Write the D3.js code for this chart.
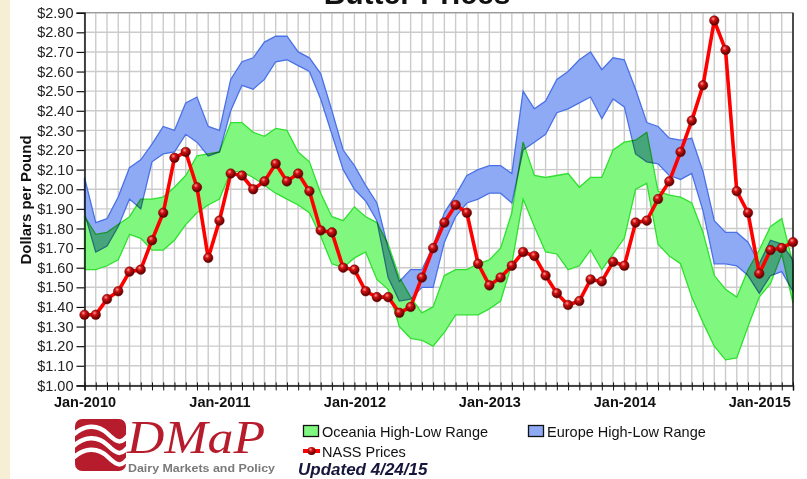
<!DOCTYPE html>
<html><head><meta charset="utf-8">
<script src="https://cdn.jsdelivr.net/npm/d3@7"></script>
<style>
body{margin:0;background:#fff;}
svg{display:block;}
text{font-family:"Liberation Sans",Arial,sans-serif;}
</style>
</head><body>
<svg id="chart" width="807" height="479"></svg>
<script>
// ---------------- DATA ----------------
const months = [
 "2010-01","2010-02","2010-03","2010-04","2010-05","2010-06","2010-07","2010-08","2010-09","2010-10","2010-11","2010-12",
 "2011-01","2011-02","2011-03","2011-04","2011-05","2011-06","2011-07","2011-08","2011-09","2011-10","2011-11","2011-12",
 "2012-01","2012-02","2012-03","2012-04","2012-05","2012-06","2012-07","2012-08","2012-09","2012-10","2012-11","2012-12",
 "2013-01","2013-02","2013-03","2013-04","2013-05","2013-06","2013-07","2013-08","2013-09","2013-10","2013-11","2013-12",
 "2014-01","2014-02","2014-03","2014-04","2014-05","2014-06","2014-07","2014-08","2014-09","2014-10","2014-11","2014-12",
 "2015-01","2015-02","2015-03","2015-04"];

const nassPrices = [
 1.36,1.36,1.44,1.48,1.58,1.59,1.74,1.88,2.16,2.19,2.01,1.65,
 1.84,2.08,2.07,2.00,2.04,2.13,2.04,2.08,1.99,1.79,1.78,1.60,
 1.59,1.48,1.45,1.45,1.37,1.40,1.55,1.70,1.83,1.92,1.88,1.62,
 1.51,1.55,1.61,1.68,1.66,1.56,1.47,1.41,1.43,1.54,1.53,1.63,
 1.61,1.83,1.84,1.95,2.04,2.19,2.35,2.53,2.86,2.71,1.99,1.88,
 1.57,1.69,1.70,1.73];

const oceaniaHigh = [
 1.86,1.77,1.78,1.82,1.86,1.95,1.95,1.96,2.01,2.07,2.17,2.18,
 2.19,2.34,2.34,2.29,2.27,2.31,2.30,2.19,2.14,1.98,1.86,1.84,
 1.91,1.86,1.83,1.72,1.55,1.45,1.37,1.40,1.56,1.59,1.59,1.62,
 1.64,1.70,1.88,2.24,2.07,2.06,2.07,2.08,2.01,2.06,2.06,2.20,
 2.24,2.25,2.29,1.99,1.97,1.96,1.93,1.78,1.56,1.49,1.45,1.59,
 1.69,1.81,1.85,1.62];
const oceaniaLow = [
 1.59,1.59,1.61,1.64,1.77,1.75,1.69,1.69,1.74,1.82,1.88,1.92,
 1.95,2.09,2.09,2.06,2.02,1.98,1.95,1.92,1.88,1.76,1.62,1.60,
 1.65,1.68,1.54,1.49,1.30,1.24,1.23,1.20,1.27,1.36,1.36,1.36,
 1.39,1.43,1.62,1.95,1.81,1.68,1.67,1.59,1.61,1.69,1.59,1.67,
 1.75,2.00,2.03,1.72,1.66,1.62,1.45,1.32,1.20,1.13,1.14,1.30,
 1.45,1.52,1.67,1.42];

const europeHigh = [
 2.06,1.83,1.85,1.96,2.11,2.15,2.23,2.32,2.30,2.44,2.47,2.32,
 2.30,2.56,2.65,2.67,2.75,2.78,2.78,2.70,2.67,2.59,2.40,2.20,
 2.12,2.02,1.93,1.70,1.53,1.59,1.59,1.71,1.88,1.97,2.07,2.10,
 2.12,2.12,2.08,2.50,2.41,2.45,2.56,2.60,2.66,2.70,2.61,2.67,
 2.66,2.51,2.34,2.32,2.26,2.25,2.26,2.09,1.84,1.78,1.78,1.73,
 1.62,1.74,1.72,1.64];
const europeLow = [
 1.88,1.68,1.71,1.81,1.95,1.90,2.14,2.18,2.19,2.28,2.24,2.17,
 2.19,2.40,2.53,2.51,2.56,2.65,2.66,2.63,2.60,2.46,2.28,2.10,
 2.00,1.94,1.84,1.55,1.43,1.44,1.50,1.50,1.73,1.86,1.93,1.95,
 1.98,1.98,1.93,2.20,2.24,2.28,2.39,2.41,2.44,2.47,2.36,2.46,
 2.42,2.18,2.14,2.13,2.07,2.05,2.08,1.89,1.62,1.62,1.61,1.56,
 1.47,1.56,1.58,1.48];

const yTickValues = [1.00,1.10,1.20,1.30,1.40,1.50,1.60,1.70,1.80,1.90,2.00,2.10,2.20,2.30,2.40,2.50,2.60,2.70,2.80,2.90];
const xLabelMonths = ["2010-01","2011-01","2012-01","2013-01","2014-01","2015-01"];
const xLabelTexts  = ["Jan-2010","Jan-2011","Jan-2012","Jan-2013","Jan-2014","Jan-2015"];

const legendItems = ["Oceania High-Low Range","Europe High-Low Range","NASS Prices"];

// ---------------- LAYOUT ----------------
const svg = d3.select("#chart");
const L = 84.5, R = 793, T = 12.7, B = 385.4;

svg.append("rect").attr("x",0).attr("y",0).attr("width",807).attr("height",479).attr("fill","#fff");
svg.append("rect").attr("x",0).attr("y",0).attr("width",10).attr("height",479).attr("fill","#f6eed5");

const x = d3.scalePoint().domain(months).range([L, R]);
const y = d3.scaleLinear().domain([1.0, 2.9]).range([B, T]);

const defs = svg.append("defs");
const grad = defs.append("radialGradient").attr("id","ball").attr("cx","38%").attr("cy","32%").attr("r","65%");
grad.append("stop").attr("offset","0%").attr("stop-color","#ff9a9a");
grad.append("stop").attr("offset","35%").attr("stop-color","#d41010");
grad.append("stop").attr("offset","100%").attr("stop-color","#5a0000");

// grid
const grid = svg.append("g");
grid.selectAll("line.h").data(yTickValues).join("line")
  .attr("x1",L).attr("x2",R).attr("y1",d=>y(d)).attr("y2",d=>y(d))
  .attr("stroke","#cbcbcb").attr("stroke-width",1.4);
grid.selectAll("line.v").data(months).join("line")
  .attr("x1",d=>x(d)).attr("x2",d=>x(d)).attr("y1",T).attr("y2",B)
  .attr("stroke","#cbcbcb").attr("stroke-width",1.4);

// bands
const bands = svg.append("g").style("isolation","isolate");
function band(high, low, fill, stroke){
  const area = d3.area().x((d,i)=>x(months[i])).y0((d,i)=>y(low[i])).y1((d,i)=>y(high[i]));
  bands.append("path").datum(high).attr("d",area)
    .attr("fill",fill).attr("stroke",stroke).attr("stroke-width",1.3)
    .style("mix-blend-mode","multiply");
}
band(europeHigh, europeLow, "#8eaaf5", "#4a72e6");
band(oceaniaHigh, oceaniaLow, "#80f880", "#2fe02f");

// frame
svg.append("line").attr("x1",L).attr("x2",R).attr("y1",T).attr("y2",T).attr("stroke","#9a9a9a").attr("stroke-width",1.2);
svg.append("line").attr("x1",R).attr("x2",R).attr("y1",T).attr("y2",B).attr("stroke","#111").attr("stroke-width",1.4);

// y axis
const yAxis = svg.append("g").attr("transform",`translate(${L},0)`)
  .call(d3.axisLeft(y).tickValues(yTickValues).tickFormat(d=>"$"+d.toFixed(2)).tickSize(8).tickPadding(3));
yAxis.select(".domain").attr("stroke","#111").attr("stroke-width",1.5);
yAxis.selectAll(".tick line").attr("stroke","#111").attr("stroke-width",1.2);
yAxis.selectAll("text").attr("font-size","14.5px").attr("fill","#222")
  .style("font-family","'Liberation Sans',Arial,sans-serif");

// x axis
const xAxis = svg.append("g").attr("transform",`translate(0,${B})`)
  .call(d3.axisBottom(x).tickValues(months).tickSize(5).tickPadding(6)
    .tickFormat(d=>{const k=xLabelMonths.indexOf(d); return k>=0?xLabelTexts[k]:"";}));
xAxis.select(".domain").attr("stroke","#111").attr("stroke-width",1.5);
xAxis.selectAll(".tick line").attr("y1",-3).attr("stroke","#111").attr("stroke-width",1);
xAxis.selectAll("text").attr("font-size","14.5px").attr("font-weight","bold").attr("fill","#111")
  .style("font-family","'Liberation Sans',Arial,sans-serif");

// NASS line
const line = d3.line().x((d,i)=>x(months[i])).y(d=>y(d));
svg.append("path").datum(nassPrices).attr("d",line).attr("fill","none")
  .attr("stroke","#ff0000").attr("stroke-width",3.6).attr("stroke-linejoin","round");
svg.append("g").selectAll("circle").data(nassPrices).join("circle")
  .attr("cx",(d,i)=>x(months[i])).attr("cy",d=>y(d)).attr("r",4.8)
  .attr("fill","url(#ball)").attr("stroke","#6a0000").attr("stroke-width",0.5);

// title (cut off at top, as in the reference)
svg.append("text").attr("x",417).attr("y",4).attr("text-anchor","middle")
  .attr("font-size","30px").attr("font-weight","bold").attr("fill","#111").text("Butter Prices");

// y axis title
svg.append("text").attr("transform","translate(31,200) rotate(-90)").attr("text-anchor","middle")
  .attr("font-size","15px").attr("font-weight","bold").attr("fill","#111").text("Dollars per Pound");

// legend
const lg = svg.append("g");
lg.append("rect").attr("x",303.5).attr("y",425.5).attr("width",15).attr("height",11)
  .attr("fill","#80f880").attr("stroke","#111").attr("stroke-width",1.3);
lg.append("text").attr("x",322).attr("y",436.5).attr("font-size","14.5px").attr("fill","#111").text(legendItems[0]);
lg.append("rect").attr("x",528.5).attr("y",425.5).attr("width",15).attr("height",11)
  .attr("fill","#8eaaf5").attr("stroke","#111").attr("stroke-width",1.3);
lg.append("text").attr("x",547).attr("y",436.5).attr("font-size","14.5px").attr("fill","#111").text(legendItems[1]);
lg.append("line").attr("x1",303).attr("x2",320).attr("y1",451).attr("y2",451).attr("stroke","#ff0000").attr("stroke-width",4);
lg.append("circle").attr("cx",311.5).attr("cy",451).attr("r",4).attr("fill","url(#ball)");
lg.append("text").attr("x",322).attr("y",456.5).attr("font-size","14.5px").attr("fill","#111").text(legendItems[2]);
lg.append("text").attr("x",298).attr("y",474.5).attr("font-size","17px").attr("font-weight","bold")
  .attr("font-style","italic").attr("fill","#16163c").text("Updated 4/24/15");

// logo
const logo = svg.append("g");
logo.append("rect").attr("x",75).attr("y",419).attr("width",51).attr("height",52).attr("rx",7).attr("fill","#b71c2c");
const clip = defs.append("clipPath").attr("id","logoclip");
clip.append("rect").attr("x",75).attr("y",419).attr("width",51).attr("height",52).attr("rx",7);
[0,1,2].forEach(i=>{
  const o = i*11.5;
  logo.append("path").attr("clip-path","url(#logoclip)")
    .attr("d",`M72,${436+o} C84,${424+o} 98,${424+o} 108,${434+o} S122,${444+o} 130,${433+o}`)
    .attr("fill","none").attr("stroke","#fff").attr("stroke-width",4.5);
});
logo.append("text").attr("x",127).attr("y",453).attr("font-size","46px").attr("font-style","italic")
  .attr("textLength",138).attr("lengthAdjust","spacingAndGlyphs")
  .style("font-family","'Liberation Serif','DejaVu Serif',serif").attr("fill","#b71c2c").text("DMaP");
logo.append("text").attr("x",128).attr("y",472).attr("font-size","11.5px").attr("font-weight","bold")
  .attr("fill","#7a7a7a").attr("textLength",147).attr("lengthAdjust","spacingAndGlyphs").text("Dairy Markets and Policy");
</script>
</body></html>
